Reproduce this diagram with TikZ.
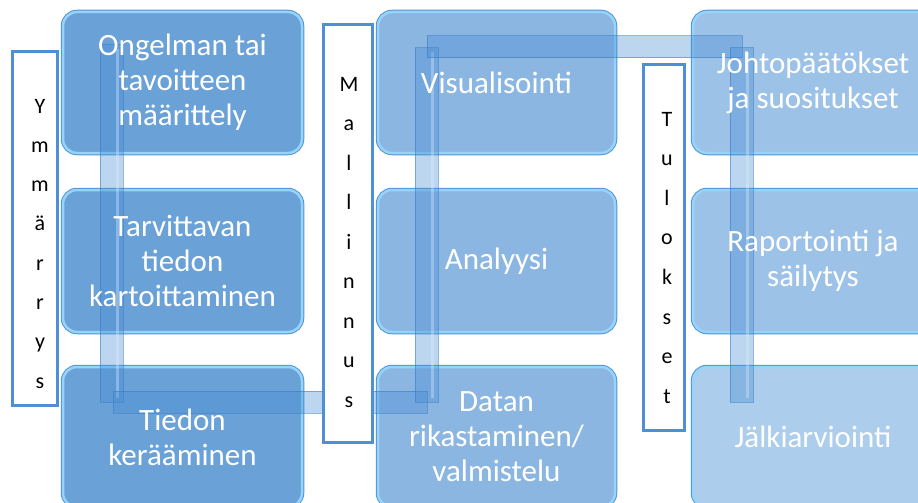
\documentclass[tikz,border=0pt]{standalone}
\usepackage{fontspec}
\setmainfont{Carlito}

\definecolor{fillA}{RGB}{106,161,215}
\definecolor{fillB}{RGB}{140,182,226}
\definecolor{fillC}{RGB}{157,194,231}
\definecolor{fillD}{RGB}{172,205,236}
\definecolor{edgeDark}{RGB}{80,146,212}
\definecolor{edgeLight}{RGB}{150,212,252}
\definecolor{barFill}{RGB}{70,140,210}
\definecolor{barEdge}{RGB}{55,125,200}
\definecolor{barShine}{RGB}{225,240,252}
\definecolor{labEdge}{RGB}{79,144,212}

\begin{document}
\begin{tikzpicture}[x=1pt,y=-1pt,
  box/.style={rectangle, rounded corners=14pt, inner sep=0pt,
    draw=edgeLight, line width=2.5pt,
    preaction={draw=edgeDark, line width=4.5pt}},
  boxtext/.style={text=white, align=center, inner sep=0pt,
    font=\fontsize{31}{35}\selectfont},
  bar/.style={fill=barFill, fill opacity=0.36, draw=barEdge,
    draw opacity=0.55, line width=1pt},
  shine/.style={draw=barShine, draw opacity=0.35, line width=3pt},
  lab/.style={rectangle, fill=white, draw=labEdge, line width=3pt, inner sep=0pt},
  letter/.style={anchor=base, inner sep=0pt, text=black,
    font=\fontsize{22}{22}\selectfont}
]
\useasboundingbox (0,0) rectangle (918,503);
\clip (0,0) rectangle (918,503);

% process boxes
\node[box, fill=fillA, minimum width=239pt, minimum height=141pt] (b11) at (182.5,82.5) {};
\node[box, fill=fillA, minimum width=239pt, minimum height=142pt] (b12) at (182.5,261) {};
\node[box, fill=fillA, minimum width=239pt, minimum height=140pt] (b13) at (182.5,437) {};
\node[box, fill=fillB, minimum width=237pt, minimum height=141pt] (b21) at (496.5,82.5) {};
\node[box, fill=fillB, minimum width=237pt, minimum height=142pt] (b22) at (496.5,261) {};
\node[box, fill=fillB, minimum width=237pt, minimum height=140pt] (b23) at (496.5,437) {};
\node[box, fill=fillC, minimum width=240pt, minimum height=141pt] (b31) at (813,82.5) {};
\node[box, fill=fillC, minimum width=240pt, minimum height=142pt] (b32) at (813,261) {};
\node[box, fill=fillD, minimum width=240pt, minimum height=140pt] (b33) at (813,437) {};

% snake-shaped flow bar: segment corners
\coordinate (a1) at (100,45);  \coordinate (a2) at (123,402);
\coordinate (h1) at (113,391); \coordinate (h2) at (427,413);
\coordinate (c1) at (415,48);  \coordinate (c2) at (438,402);
\coordinate (d1) at (427,36);  \coordinate (d2) at (742,58);
\coordinate (e1) at (730,48);  \coordinate (e2) at (753,402);
% highlight stripes
\coordinate (as1) at (117,49);  \coordinate (as2) at (117,398);
\coordinate (cs1) at (432,52);  \coordinate (cs2) at (432,398);
\coordinate (es1) at (747,52);  \coordinate (es2) at (747,398);

\draw[bar] (a1) rectangle (a2);
\draw[shine] (as1) -- (as2);
\draw[bar] (h1) rectangle (h2);
\draw[bar] (c1) rectangle (c2);
\draw[shine] (cs1) -- (cs2);
\draw[bar] (d1) rectangle (d2);
\draw[bar] (e1) rectangle (e2);
\draw[shine] (es1) -- (es2);

% box captions
\node[boxtext] (t11) at (b11) {Ongelman tai\\tavoitteen\\määrittely};
\node[boxtext] (t12) at (b12) {Tarvittavan\\tiedon\\kartoittaminen};
\node[boxtext] (t13) at (b13) {Tiedon\\kerääminen};
\node[boxtext] (t21) at (b21) {Visualisointi};
\node[boxtext] (t22) at (b22) {Analyysi};
\node[boxtext] (t23) at (b23) {Datan\\rikastaminen/\\valmistelu};
\node[boxtext] (t31) at (b31) {Johtopäätökset\\ja suositukset};
\node[boxtext] (t32) at (b32) {Raportointi ja\\säilytys};
\node[boxtext] (t33) at (b33) {Jälkiarviointi};

% phase labels
\node[lab, minimum width=45pt, minimum height=353pt] (ymm) at (34.5,228.5) {};
\node[lab, minimum width=49pt, minimum height=417pt] (mal) at (347.5,233.5) {};
\node[lab, minimum width=41pt, minimum height=365pt] (tul) at (663.5,247.5) {};

\foreach \c [count=\i] in {Y,m,m,ä,r,r,y,s}
  \node[letter] (ymm\i) at (40,{113+(\i-1)*39.3}) {\c};
\foreach \c [count=\i] in {M,a,l,l,i,n,n,u,s}
  \node[letter] (mal\i) at (349,{91+(\i-1)*39.5}) {\c};
\foreach \c [count=\i] in {T,u,l,o,k,s,e,t}
  \node[letter] (tul\i) at (667,{126+(\i-1)*39.6}) {\c};
\end{tikzpicture}
\end{document}
